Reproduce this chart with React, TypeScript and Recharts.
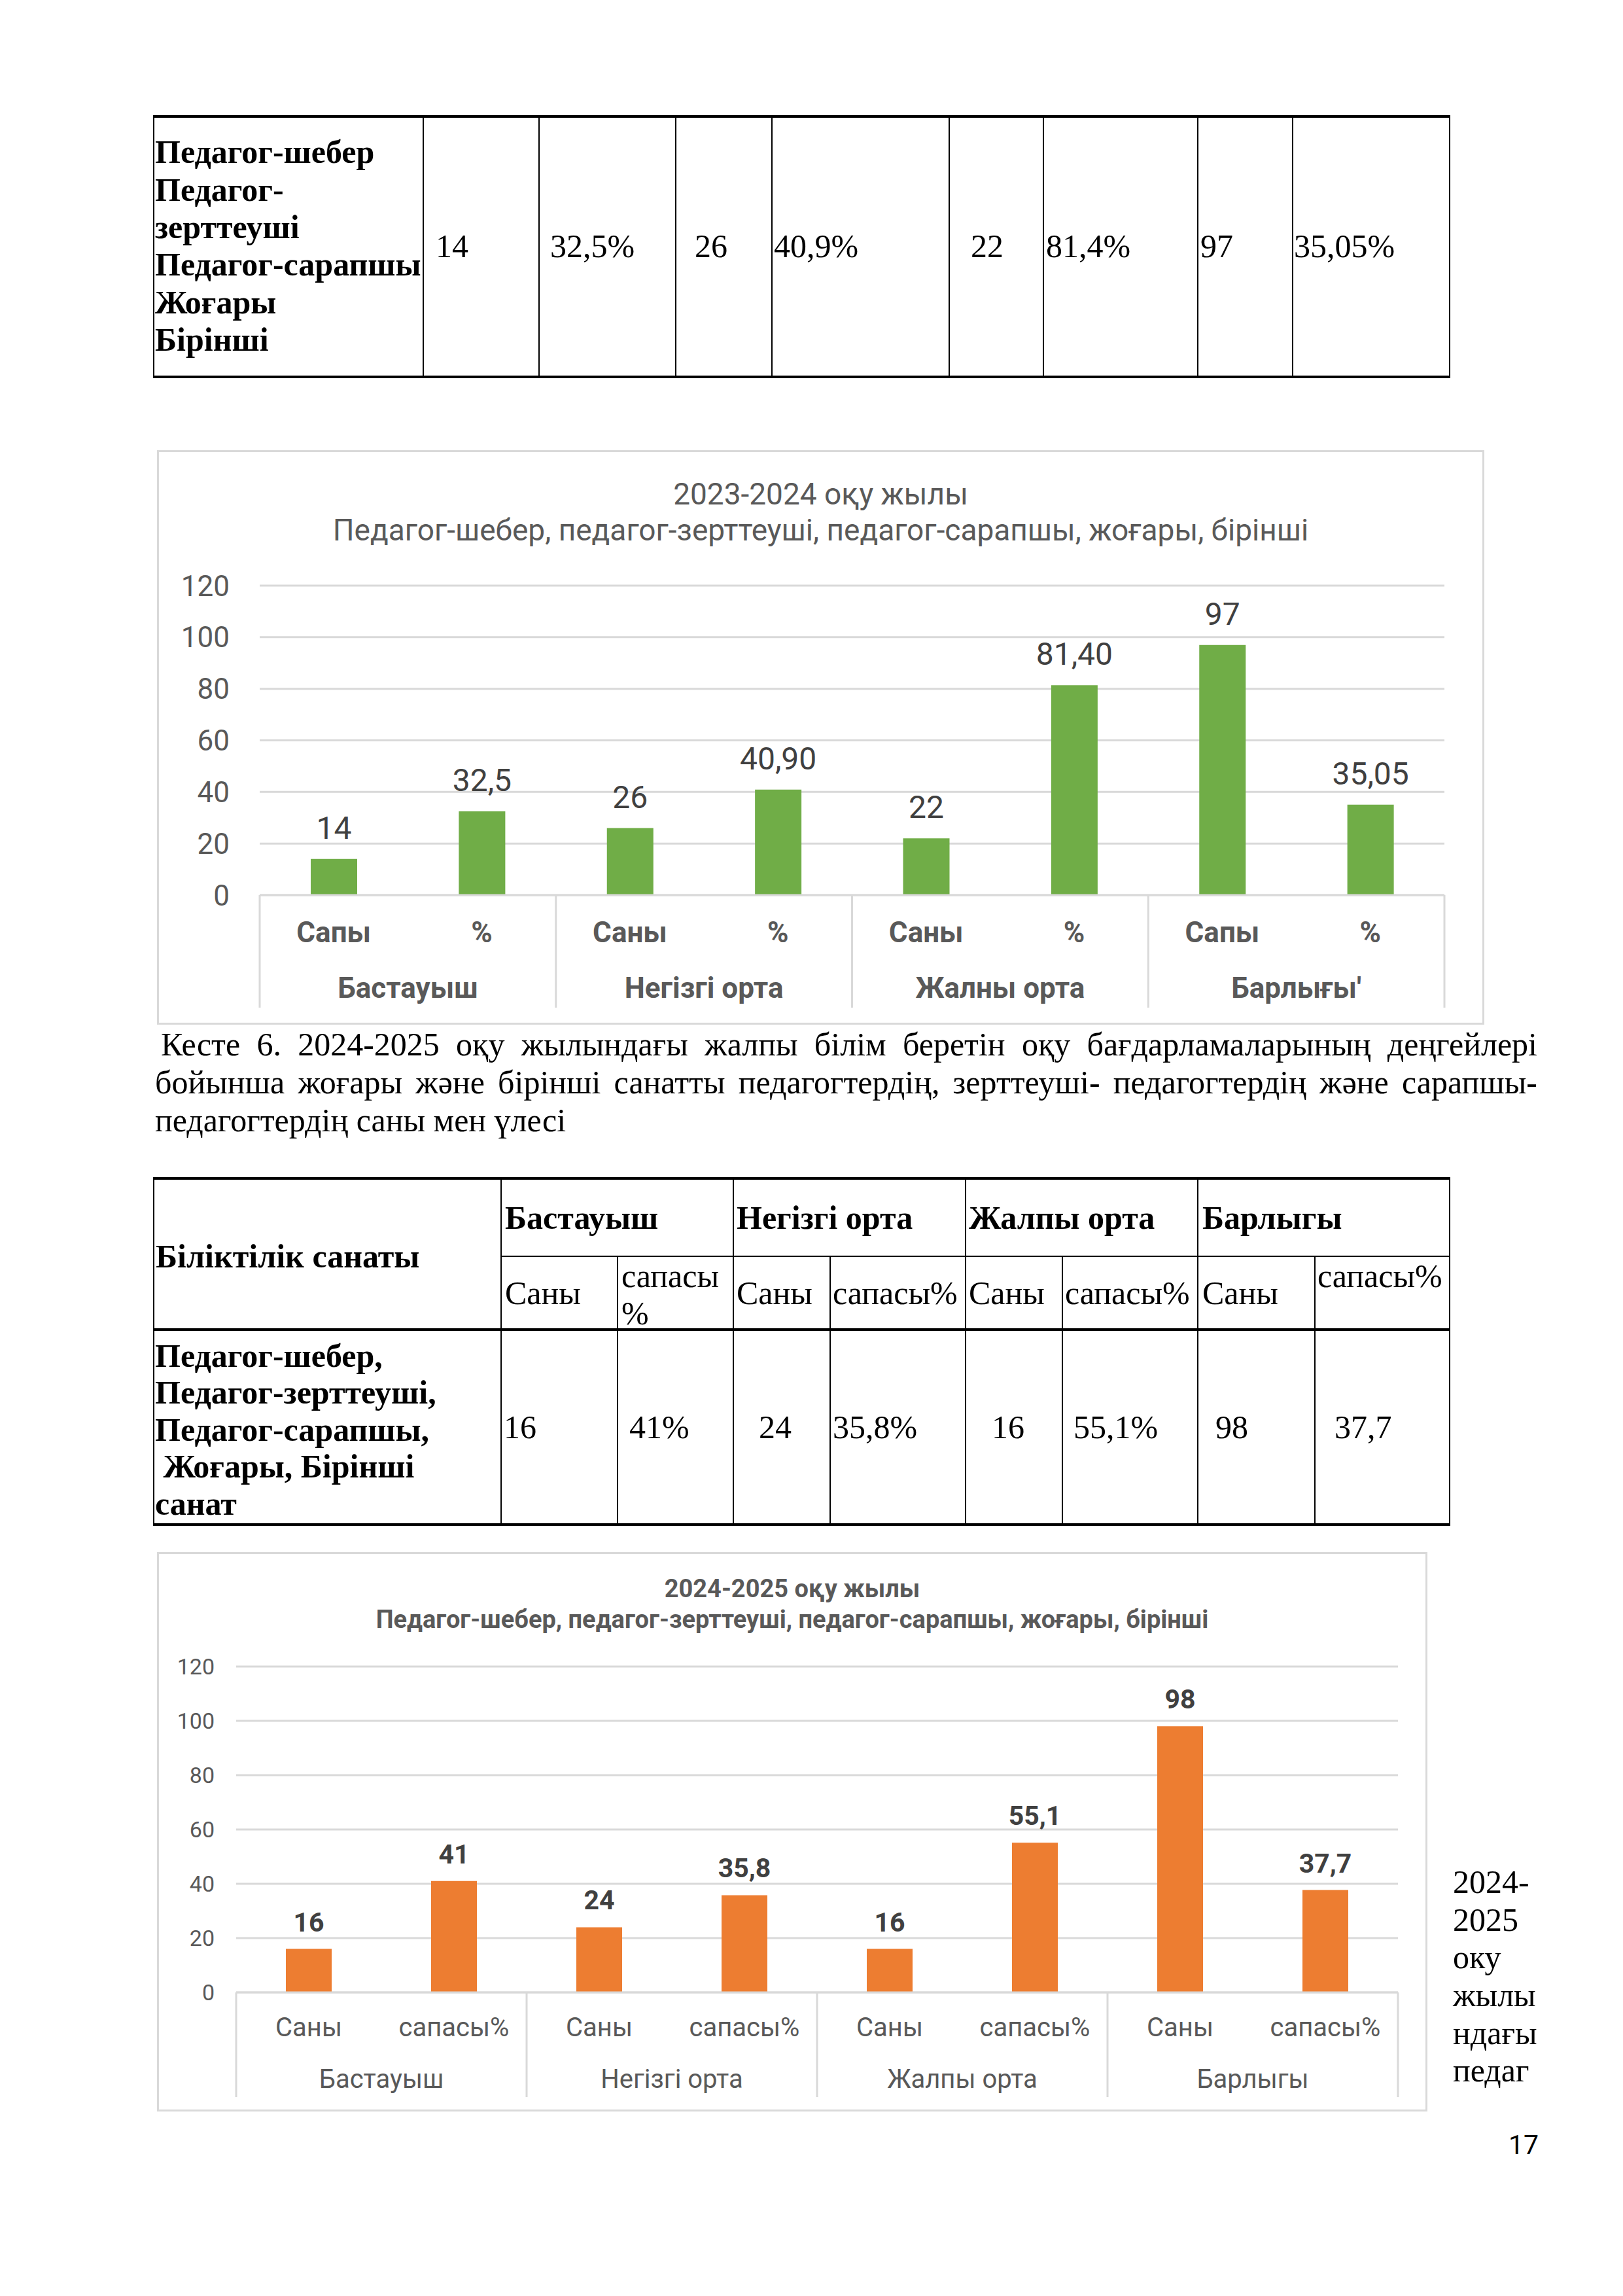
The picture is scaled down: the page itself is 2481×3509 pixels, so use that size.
import React from "react";
import { BarChart, Bar, XAxis, YAxis, CartesianGrid, LabelList } from "recharts";

const serif = "'Liberation Serif', 'Times New Roman', serif";
const sans = "Roboto, 'Noto Sans', 'DejaVu Sans', sans-serif";

// --- table carried over from previous page (2023-2024) ---
const table1Label = ["Педагог-шебер", "Педагог-", "зерттеуші", "Педагог-сарапшы", "Жоғары", "Бірінші"];
const table1Values = ["14", "32,5%", "26", "40,9%", "22", "81,4%", "97", "35,05%"];

// --- chart 2023-2024 ---
const groups2324 = ["Бастауыш", "Негізгі орта", "Жалны орта", "Барлығы'"];
const sub2324 = ["Сапы", "%", "Саны", "%", "Саны", "%", "Сапы", "%"];
const values2324 = [14, 32.5, 26, 40.9, 22, 81.4, 97, 35.05];
const labels2324 = ["14", "32,5", "26", "40,90", "22", "81,40", "97", "35,05"];

const caption = [
  "Кесте 6. 2024-2025 оқу жылындағы жалпы білім беретін оқу бағдарламаларының деңгейлері",
  "бойынша жоғары және бірінші санатты педагогтердің, зерттеуші- педагогтердің және сарапшы-",
  "педагогтердің саны мен үлесі",
];

// --- table 2024-2025 ---
const t2Corner = "Біліктілік санаты";
const t2Groups = ["Бастауыш", "Негізгі орта", "Жалпы орта", "Барлыгы"];
const t2Sub = ["Саны", "сапасы\n%", "Саны", "сапасы%", "Саны", "сапасы%", "Саны", "сапасы%"];
const t2RowLabel = ["Педагог-шебер,", "Педагог-зерттеуші,", "Педагог-сарапшы,", " Жоғары, Бірінші", "санат"];
const t2Values = ["16", "41%", "24", "35,8%", "16", "55,1%", "98", "37,7"];

// --- chart 2024-2025 ---
const groups2425 = ["Бастауыш", "Негізгі орта", "Жалпы орта", "Барлыгы"];
const sub2425 = ["Саны", "сапасы%", "Саны", "сапасы%", "Саны", "сапасы%", "Саны", "сапасы%"];
const values2425 = [16, 41, 24, 35.8, 16, 55.1, 98, 37.7];
const labels2425 = ["16", "41", "24", "35,8", "16", "55,1", "98", "37,7"];

const yTicks = [0, 20, 40, 60, 80, 100, 120];

const sideText = ["2024-", "2025", "оку", "жылы", "ндағы", "педаг"];
const pageNumber = "17";

// layout (page pixels)
const t1Cols = [235, 647, 824, 1033, 1180, 1451, 1595, 1831, 1976, 2216];
const t1ValueX = [666, 841, 1062, 1183, 1484, 1599, 1835, 1978];
const t2Cols = [235, 766, 944, 1121, 1269, 1476, 1624, 1831, 2010, 2216];
const t2GroupX = [772, 1126, 1481, 1838];
const t2SubX = [772, 950, 1126, 1273, 1481, 1628, 1838, 2014];
const t2ValueX = [770, 962, 1160, 1273, 1516, 1641, 1858, 2040];

const LH = 57;

function Txt({ x, y, children, bold, size = 50, lh = LH, font = serif, color = "#000" }: any) {
  return (
    <div
      style={{
        position: "absolute",
        left: x,
        top: y - lh / 2,
        fontFamily: font,
        fontSize: size,
        lineHeight: `${lh}px`,
        fontWeight: bold ? 700 : 400,
        whiteSpace: "pre",
        color,
      }}
    >
      {children}
    </div>
  );
}

const HL = ({ x1, x2, y, w = 2 }: any) => (
  <div style={{ position: "absolute", left: x1, top: y - w / 2, width: x2 - x1, height: w, background: "#000" }} />
);
const VL = ({ x, y1, y2, w = 2 }: any) => (
  <div style={{ position: "absolute", left: x - w / 2, top: y1, width: w, height: y2 - y1, background: "#000" }} />
);

type Cfg = {
  left: number;
  top: number;
  width: number;
  height: number;
  plotLeft: number;
  marginRight: number;
  plotTop: number;
  baseline: number;
  row1Dy: number;
  row2Dy: number;
  sepEnd: number;
  tickFont: number;
  tickGap: number;
  axisFont: number;
  axisBold: boolean;
  labelFont: number;
  labelBold: boolean;
  labelOffset: number;
  barSize: number;
  color: string;
  title: string[];
  titleY: number[];
  titleFont: number;
  titleBold: boolean;
};

function GroupedChart({ cfg, groups, subs, values, labels }: any) {
  const c: Cfg = cfg;
  const data = values.map((v: number, i: number) => ({ id: i, value: v, label: labels[i] }));
  const plotW = c.width - c.plotLeft - c.marginRight;
  const catW = plotW / values.length;
  const grid = "#d9d9d9";
  const txt = "#595959";

  const renderTick = (props: any) => {
    const { x, y, index } = props;
    const last = index === values.length - 1;
    return (
      <g>
        <text
          x={x}
          y={y + c.row1Dy}
          textAnchor="middle"
          dominantBaseline="central"
          fill={txt}
          fontSize={c.axisFont}
          fontFamily={sans}
          fontWeight={c.axisBold ? 700 : 400}
        >
          {subs[index]}
        </text>
        {index % 2 === 0 && (
          <>
            <line x1={x - catW / 2} x2={x - catW / 2} y1={y} y2={y + c.sepEnd} stroke={grid} strokeWidth={3} />
            <text
              x={x + catW / 2}
              y={y + c.row2Dy}
              textAnchor="middle"
              dominantBaseline="central"
              fill={txt}
              fontSize={c.axisFont}
              fontFamily={sans}
              fontWeight={c.axisBold ? 700 : 400}
            >
              {groups[Math.floor(index / 2)]}
            </text>
          </>
        )}
        {last && <line x1={x + catW / 2} x2={x + catW / 2} y1={y} y2={y + c.sepEnd} stroke={grid} strokeWidth={3} />}
      </g>
    );
  };

  return (
    <div style={{ position: "absolute", left: c.left, top: c.top, width: c.width, height: c.height, background: "#fff" }}>
      {c.title.map((t, i) => (
        <div
          key={i}
          style={{
            position: "absolute",
            left: 0,
            width: c.width,
            top: c.titleY[i] - 30,
            lineHeight: "60px",
            textAlign: "center",
            fontFamily: sans,
            fontSize: c.titleFont,
            fontWeight: c.titleBold ? 700 : 400,
            color: txt,
            whiteSpace: "pre",
          }}
        >
          {t}
        </div>
      ))}
      <div style={{ position: "absolute", left: 0, top: 0 }}>
        <BarChart
          width={c.width}
          height={c.height}
          data={data}
          margin={{ top: c.plotTop, right: c.marginRight, left: 0, bottom: c.height - c.baseline - c.sepEnd }}
        >
          <CartesianGrid vertical={false} stroke={grid} strokeWidth={3} />
          <YAxis
            type="number"
            domain={[0, 120]}
            ticks={yTicks}
            interval={0}
            width={c.plotLeft}
            axisLine={false}
            tickLine={false}
            tickSize={0}
            tickMargin={c.tickGap}
            tick={{ fill: txt, fontSize: c.tickFont, fontFamily: sans }}
          />
          <XAxis
            dataKey="id"
            type="category"
            interval={0}
            height={c.sepEnd}
            tickLine={false}
            tickSize={0}
            tickMargin={0}
            axisLine={{ stroke: grid, strokeWidth: 3 }}
            tick={renderTick}
          />
          <Bar dataKey="value" fill={c.color} barSize={c.barSize} isAnimationActive={false}>
            <LabelList
              dataKey="label"
              position="top"
              offset={c.labelOffset}
              fill="#404040"
              fontSize={c.labelFont}
              fontFamily={sans}
              fontWeight={c.labelBold ? 700 : 400}
            />
          </Bar>
        </BarChart>
      </div>
      <div
        style={{
          position: "absolute",
          left: 0,
          top: 0,
          width: c.width,
          height: c.height,
          boxSizing: "border-box",
          border: `3px solid ${grid}`,
          pointerEvents: "none",
        }}
      />
    </div>
  );
}

const cfg2324: Cfg = {
  left: 240,
  top: 688,
  width: 2029,
  height: 878,
  plotLeft: 157,
  marginRight: 61,
  plotTop: 207,
  baseline: 680,
  row1Dy: 57,
  row2Dy: 142,
  sepEnd: 172,
  tickFont: 44,
  tickGap: 46,
  axisFont: 44,
  axisBold: true,
  labelFont: 48,
  labelBold: false,
  labelOffset: 31,
  barSize: 71,
  color: "#70ad47",
  title: ["2023-2024 оқу жылы", "Педагог-шебер, педагог-зерттеуші, педагог-сарапшы, жоғары, бірінші"],
  titleY: [67, 122],
  titleFont: 46,
  titleBold: false,
};

const cfg2425: Cfg = {
  left: 240,
  top: 2372,
  width: 1942,
  height: 855,
  plotLeft: 121,
  marginRight: 45,
  plotTop: 175,
  baseline: 673,
  row1Dy: 53,
  row2Dy: 132,
  sepEnd: 160,
  tickFont: 34,
  tickGap: 33,
  axisFont: 40,
  axisBold: false,
  labelFont: 41,
  labelBold: true,
  labelOffset: 27,
  barSize: 70,
  color: "#ed7d31",
  title: ["2024-2025 оқу жылы", "Педагог-шебер, педагог-зерттеуші, педагог-сарапшы, жоғары, бірінші"],
  titleY: [56, 103],
  titleFont: 38,
  titleBold: true,
};

export default function App() {
  return (
    <div style={{ position: "absolute", left: 0, top: 0, width: 2481, height: 3509, background: "#fff", overflow: "hidden" }}>
      {/* table 2023-2024 (continued) */}
      <HL x1={t1Cols[0] - 1} x2={t1Cols[t1Cols.length - 1] + 1} y={178} w={4} />
      <HL x1={t1Cols[0] - 1} x2={t1Cols[t1Cols.length - 1] + 1} y={576} w={4} />
      {t1Cols.map((x, i) => (
        <VL key={i} x={x} y1={178} y2={576} />
      ))}
      <Txt x={237} y={233} bold lh={57.3}>
        {table1Label.join("\n")}
      </Txt>
      {table1Values.map((v, i) => (
        <Txt key={i} x={t1ValueX[i]} y={376}>
          {v}
        </Txt>
      ))}

      <GroupedChart cfg={cfg2324} groups={groups2324} subs={sub2324} values={values2324} labels={labels2324} />

      {/* caption */}
      {caption.map((line, i) => (
        <div
          key={i}
          style={{
            position: "absolute",
            left: 237,
            top: 1596 + i * 58 - LH / 2,
            width: 2113,
            fontFamily: serif,
            fontSize: 50,
            lineHeight: `${LH}px`,
            textAlign: i < 2 ? "justify" : "left",
            textAlignLast: i < 2 ? "justify" : "left",
            textIndent: i === 0 ? 9 : 0,
            whiteSpace: "nowrap",
          }}
        >
          {line}
        </div>
      ))}

      {/* table 2024-2025 */}
      <HL x1={t2Cols[0] - 1} x2={t2Cols[t2Cols.length - 1] + 1} y={1801} w={4} />
      <HL x1={t2Cols[1]} x2={t2Cols[t2Cols.length - 1] + 1} y={1920} />
      <HL x1={t2Cols[0] - 1} x2={t2Cols[t2Cols.length - 1] + 1} y={2032} w={4} />
      <HL x1={t2Cols[0] - 1} x2={t2Cols[t2Cols.length - 1] + 1} y={2330} w={4} />
      {t2Cols.map((x, i) => (
        <VL key={i} x={x} y1={i % 2 === 0 && i > 0 && i < 9 ? 1920 : 1801} y2={2330} />
      ))}
      <Txt x={238} y={1920} bold>
        {t2Corner}
      </Txt>
      {t2Groups.map((g, i) => (
        <Txt key={i} x={t2GroupX[i]} y={1861} bold>
          {g}
        </Txt>
      ))}
      {t2Sub.map((s, i) => (
        <Txt key={i} x={t2SubX[i]} y={s.includes("\n") || i === 7 ? 1950 : 1976}>
          {s}
        </Txt>
      ))}
      <Txt x={237} y={2072} bold lh={56.5}>
        {t2RowLabel.join("\n")}
      </Txt>
      {t2Values.map((v, i) => (
        <Txt key={i} x={t2ValueX[i]} y={2181}>
          {v}
        </Txt>
      ))}

      <GroupedChart cfg={cfg2425} groups={groups2425} subs={sub2425} values={values2425} labels={labels2425} />

      {/* side text */}
      <Txt x={2221} y={2877} lh={57.6}>
        {sideText.join("\n")}
      </Txt>
      <Txt x={2306} y={3278} size={41} font={sans} lh={50}>
        {pageNumber}
      </Txt>
    </div>
  );
}
